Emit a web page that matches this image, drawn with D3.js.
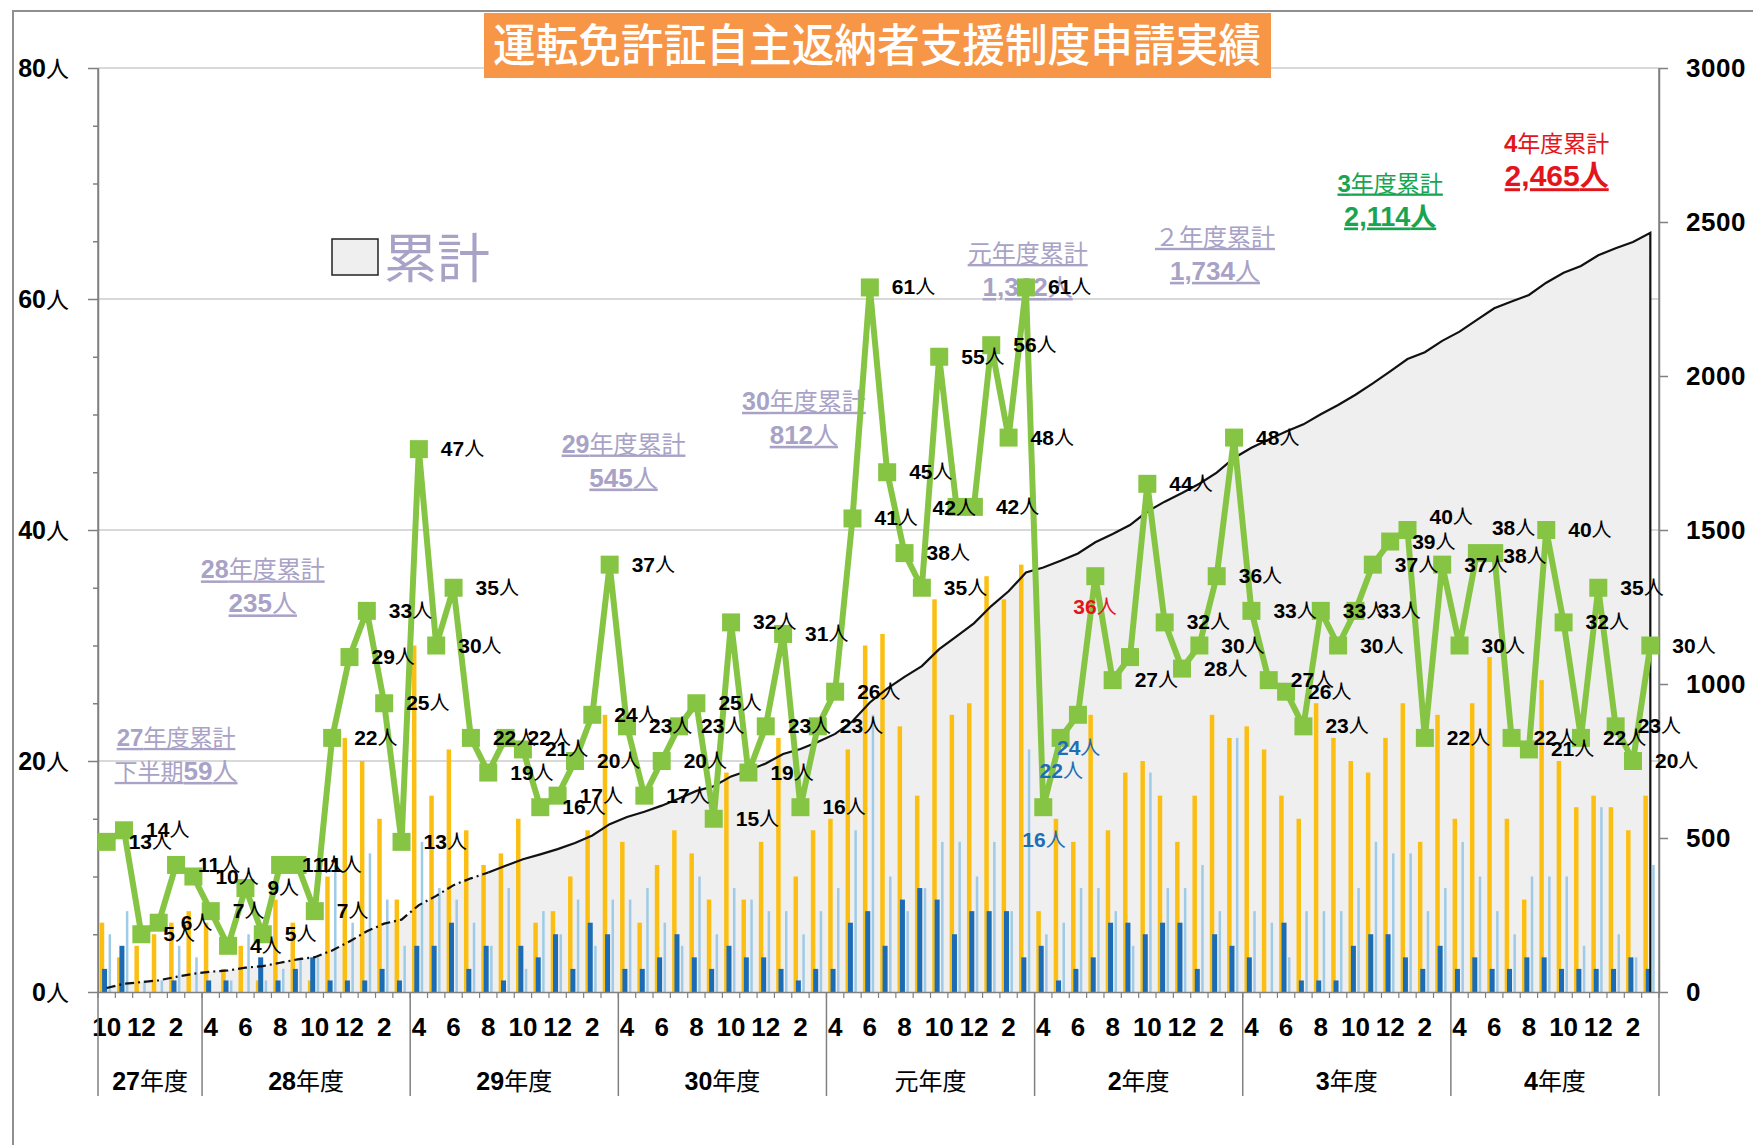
<!DOCTYPE html>
<html>
<head>
<meta charset="utf-8">
<script src="https://cdn.jsdelivr.net/npm/d3@7"></script>
<style>
  body { margin: 0; background: #fff; }
  svg { display: block; font-family: "Liberation Sans", Arial, "Noto Sans CJK JP", sans-serif; }
</style>
</head>
<body>
<svg id="chart" width="1753" height="1145"></svg>
<script>
// ---- データ ----
// 年度ラベルと各年度の月数（27年度は10月から）
const fyLabels = ["27", "28", "29", "30", "元", "2", "3", "4"];
const fyLengths = [6, 12, 12, 12, 12, 12, 12, 12];
const firstMonths = [10, 11, 12, 1, 2, 3];
const fyMonths = [4, 5, 6, 7, 8, 9, 10, 11, 12, 1, 2, 3];

// 月別申請者数（緑の折れ線）
const applicants = [
  13, 14, 5, 6, 11, 10,                      // 27年度
  7, 4, 9, 5, 11, 11, 7, 22, 29, 33, 25, 13, // 28年度
  47, 30, 35, 22, 19, 22, 21, 16, 17, 20, 24, 37,
  23, 17, 20, 23, 25, 15, 32, 19, 23, 31, 16, 23,
  26, 41, 61, 45, 38, 35, 55, 42, 42, 56, 48, 61,
  16, 22, 24, 36, 27, 29, 44, 32, 28, 30, 36, 48,
  33, 27, 26, 23, 33, 30, 33, 37, 39, 40, 22, 37,
  30, 38, 38, 22, 21, 40, 32, 22, 35, 23, 20, 30
];

// 内訳（棒グラフ 3 系列）
const seriesOrange = [
  6, 3, 4, 5, 6, 7,
  6, 2, 4, 1, 8, 6, 1, 10, 22, 20, 15, 8,
  30, 17, 21, 14, 11, 12, 15, 6, 7, 10, 14, 24,
  13, 6, 11, 14, 12, 8, 19, 8, 13, 22, 10, 14,
  15, 21, 30, 31, 23, 17, 34, 24, 25, 36, 34, 37,
  7, 15, 13, 24, 14, 19, 20, 17, 13, 17, 24, 22,
  23, 21, 17, 15, 25, 22, 20, 19, 22, 25, 13, 24,
  15, 25, 29, 15, 8, 27, 20, 16, 17, 16, 14, 17
];
const seriesDark = [
  2, 4, 0, 0, 1, 0,
  1, 1, 0, 3, 1, 2, 3, 1, 1, 1, 2, 1,
  4, 4, 6, 2, 4, 1, 4, 3, 5, 2, 6, 5,
  2, 2, 3, 5, 3, 2, 4, 3, 3, 2, 1, 2,
  2, 6, 7, 4, 8, 9, 8, 5, 7, 7, 7, 3,
  4, 1, 2, 3, 6, 6, 5, 6, 6, 2, 5, 4,
  3, 0, 6, 1, 1, 1, 4, 5, 5, 3, 2, 4,
  2, 3, 2, 2, 3, 3, 2, 2, 2, 2, 3, 2
];
const seriesLight = [
  5, 7, 1, 1, 4, 3,
  0, 1, 5, 1, 2, 3, 3, 11, 6, 12, 8, 4,
  13, 9, 8, 6, 4, 9, 2, 7, 5, 8, 4, 8,
  8, 9, 6, 4, 10, 5, 9, 8, 7, 7, 5, 7,
  9, 14, 24, 10, 7, 9, 13, 13, 10, 13, 7, 21,
  5, 6, 9, 9, 7, 4, 19, 9, 9, 11, 7, 22,
  7, 6, 3, 7, 7, 7, 9, 13, 12, 12, 7, 9,
  13, 10, 7, 5, 10, 10, 10, 4, 16, 5, 3, 11
];

// 年度末累計（注記）
const fyTotalText = ["59", "235", "545", "812", "1,362", "1,734", "2,114", "2,465"];

// 軸目盛
const leftTicks = [0, 20, 40, 60, 80];
const rightTicks = [0, 500, 1000, 1500, 2000, 2500, 3000];

// ---- 設定 ----
const svg = d3.select("#chart");
const pL = 98, pR = 1659, pT = 68, pB = 992;
const green = "#86c544";
const lav = "#a8a2c6";

const months = firstMonths.concat(...d3.range(7).map(() => fyMonths));
const cumulative = Array.from(d3.cumsum(applicants));

const x = d3.scaleBand().domain(d3.range(months.length)).range([pL, pR]);
const bw = x.bandwidth();
const cx = i => x(i) + bw / 2;
const yL = d3.scaleLinear().domain([0, 80]).range([pB, pT]);
const yR = d3.scaleLinear().domain([0, 3000]).range([pB, pT]);
const xSub = d3.scalePoint().domain(["orange", "dark", "gap", "light"]).range([bw * 0.23, bw * 0.68]);

// 外枠
svg.append("rect")
  .attr("x", 13).attr("y", 11).attr("width", 1770).attr("height", 1170)
  .attr("fill", "none").attr("stroke", "#8f8f8f").attr("stroke-width", 2);

// グリッド線
svg.append("g").selectAll("line")
  .data(leftTicks.filter(d => d > 0))
  .enter().append("line")
  .attr("x1", pL).attr("x2", pR)
  .attr("y1", d => yL(d)).attr("y2", d => yL(d))
  .attr("stroke", "#d9d9d9").attr("stroke-width", 2);

// 累計エリア
const area = d3.area()
  .x((d, i) => cx(i))
  .y0(yR(0))
  .y1(d => yR(d));
svg.append("path")
  .datum(cumulative)
  .attr("d", area)
  .attr("fill", "#efefef");

// 凡例（累計）
svg.append("rect")
  .attr("x", 332).attr("y", 239).attr("width", 46).attr("height", 36)
  .attr("fill", "#efefef").attr("stroke", "#222").attr("stroke-width", 1.5);
svg.append("text")
  .attr("x", 384).attr("y", 278)
  .attr("font-family", "'Noto Sans CJK JP', sans-serif")
  .attr("font-size", 53).attr("fill", lav)
  .text("累計");

// 棒グラフ
const barSeries = [
  { key: "orange", values: seriesOrange, color: "#fbbf14", w: 4.5 },
  { key: "dark", values: seriesDark, color: "#1c6bb5", w: 5 },
  { key: "light", values: seriesLight, color: "#9fcbe6", w: 2.5 }
];
barSeries.forEach(s => {
  svg.append("g").selectAll("rect")
    .data(s.values)
    .enter().append("rect")
    .attr("x", (d, i) => x(i) + xSub(s.key) - s.w / 2)
    .attr("width", s.w)
    .attr("y", d => yL(d))
    .attr("height", d => yL(0) - yL(d))
    .attr("fill", s.color);
});

// 累計線（前半は一点鎖線）
const dashEnd = 22;
const cumLine = d3.line().x(d => cx(d.i)).y(d => yR(d.v));
const cumPts = cumulative.map((v, i) => ({ i, v }));
svg.append("path")
  .datum(cumPts.slice(0, dashEnd + 1))
  .attr("d", cumLine)
  .attr("fill", "none").attr("stroke", "#111").attr("stroke-width", 2.2)
  .attr("stroke-dasharray", "9,4,2,4");
svg.append("path")
  .datum(cumPts.slice(dashEnd).concat([{ i: months.length - 1, v: 0 }]))
  .attr("d", cumLine)
  .attr("fill", "none").attr("stroke", "#111").attr("stroke-width", 2.2);

// 軸
const axisColor = "#808080";
const gL = svg.append("g").attr("transform", `translate(${pL},0)`);
gL.call(d3.axisLeft(yL).tickValues(d3.range(0, 81, 5)).tickSize(5).tickSizeOuter(0).tickFormat(""));
gL.selectAll(".tick").filter(d => d % 20 === 0).select("line").attr("x2", -10);
gL.selectAll("path, line").attr("stroke", axisColor).attr("stroke-width", 1.5);
gL.selectAll(".tick text").remove();
gL.selectAll(".lab")
  .data(leftTicks)
  .enter().append("text")
  .attr("class", "lab")
  .attr("x", -29).attr("y", d => yL(d) + 9)
  .attr("text-anchor", "end")
  .attr("fill", "#000")
  .each(function (d) {
    const t = d3.select(this);
    t.append("tspan").attr("font-weight", "bold").attr("font-size", 25).text(d);
    t.append("tspan").attr("font-size", 23).attr("font-family", "'Noto Sans CJK JP'").text("人");
  });

const gR = svg.append("g").attr("transform", `translate(${pR},0)`);
gR.call(d3.axisRight(yR).tickValues(rightTicks).tickSize(9).tickSizeOuter(0).tickPadding(18)
  .tickFormat(d3.format("d")));
gR.selectAll("path, line").attr("stroke", axisColor).attr("stroke-width", 1.5);
gR.selectAll("text")
  .attr("font-size", 26).attr("font-weight", "bold").attr("fill", "#000")
  .attr("letter-spacing", 0.5)
  .attr("font-family", "'Liberation Sans', Arial, sans-serif");

// 横軸
const gX = svg.append("g").attr("transform", `translate(0,${pB})`);
gX.call(d3.axisBottom(x).tickSize(0).tickFormat(""));
gX.select(".domain").attr("stroke", axisColor).attr("stroke-width", 1.5);
gX.selectAll(".mt")
  .data(d3.range(months.length + 1))
  .enter().append("line")
  .attr("x1", i => pL + i * bw).attr("x2", i => pL + i * bw)
  .attr("y1", 0).attr("y2", 6)
  .attr("stroke", axisColor).attr("stroke-width", 1.2);
gX.selectAll(".ml")
  .data(d3.range(0, months.length, 2))
  .enter().append("text")
  .attr("x", i => cx(i)).attr("y", 44)
  .attr("text-anchor", "middle")
  .attr("fill", "#000")
  .attr("font-size", 26).attr("font-weight", "bold")
  .text(i => months[i]);

// 年度区切りとラベル
const fyStarts = [0].concat(Array.from(d3.cumsum(fyLengths)));
svg.append("g").selectAll("line")
  .data(fyStarts)
  .enter().append("line")
  .attr("x1", s => s < months.length ? x(s) : pR)
  .attr("x2", s => s < months.length ? x(s) : pR)
  .attr("y1", (s, k) => (k === 0 || k === fyStarts.length - 1) ? pT : pB)
  .attr("y2", 1096)
  .attr("stroke", axisColor).attr("stroke-width", 1.5);
svg.append("g").selectAll("text")
  .data(fyLabels)
  .enter().append("text")
  .attr("x", (d, k) => (x(fyStarts[k]) + x(fyStarts[k + 1] - 1) + bw) / 2)
  .attr("y", 1090)
  .attr("text-anchor", "middle")
  .attr("fill", "#000")
  .each(function (d) {
    const t = d3.select(this);
    if (d !== "元") t.append("tspan").attr("font-weight", "bold").attr("font-size", 25).text(d);
    t.append("tspan").attr("font-size", 24).attr("font-family", "'Noto Sans CJK JP'")
      .text(d === "元" ? "元年度" : "年度");
  });

// 年度累計の注記
const annot = [
  { i: 4.5, v: 22.0, color: lav, pre: "下半期", size: 23, big: 26 },
  { i: 9.5, v: 36.5, color: lav, size: 24, big: 26 },
  { i: 30.3, v: 47.4, color: lav, size: 24, big: 26 },
  { i: 40.7, v: 51.1, color: lav, size: 24, big: 26 },
  { i: 53.6, v: 63.9, color: lav, size: 24, big: 26 },
  { i: 64.4, v: 65.3, color: lav, size: 24, big: 26 },
  { i: 74.5, v: 70.0, color: "#19a452", size: 23, big: 27 },
  { i: 84.1, v: 73.4, color: "#e3151c", size: 23, big: 30 }
];
const gA = svg.append("g");
annot.forEach((a, k) => {
  const ax = x(Math.floor(a.i)) + bw * (a.i % 1);
  const ay = yL(a.v);
  const name = fyLabels[k];
  const t1 = gA.append("text").attr("x", ax).attr("y", ay + 8)
    .attr("text-anchor", "middle").attr("fill", a.color)
    .attr("text-decoration", k < 7 ? "underline" : "none");
  if (name === "元") {
    t1.append("tspan").attr("font-size", a.size).attr("font-family", "'Noto Sans CJK JP'").text("元年度累計");
  } else if (name === "2") {
    t1.append("tspan").attr("font-size", a.size).attr("font-family", "'Noto Sans CJK JP'").text("２年度累計");
  } else {
    t1.append("tspan").attr("font-weight", "bold").attr("font-size", a.size + 1).text(name);
    t1.append("tspan").attr("font-size", a.size).attr("font-family", "'Noto Sans CJK JP'").text("年度累計");
  }
  const t2 = gA.append("text").attr("x", ax).attr("y", ay + 42)
    .attr("text-anchor", "middle").attr("fill", a.color)
    .attr("text-decoration", "underline");
  if (a.pre) t2.append("tspan").attr("font-size", a.size).attr("font-family", "'Noto Sans CJK JP'").text(a.pre);
  t2.append("tspan").attr("font-weight", "bold").attr("font-size", a.big).text(fyTotalText[k]);
  t2.append("tspan").attr("font-size", a.big - 1).attr("font-family", "'Noto Sans CJK JP'")
    .attr("font-weight", k >= 6 ? "bold" : "normal").text("人");
});

// 申請者数 折れ線
svg.append("path")
  .datum(applicants)
  .attr("d", d3.line().x((d, i) => cx(i)).y(d => yL(d)))
  .attr("fill", "none").attr("stroke", green).attr("stroke-width", 6)
  .attr("stroke-linejoin", "round");
svg.append("g").selectAll("rect")
  .data(applicants)
  .enter().append("rect")
  .attr("x", (d, i) => cx(i) - 9).attr("y", d => yL(d) - 9)
  .attr("width", 18).attr("height", 18)
  .attr("fill", green);

// データラベル（既定は点の右側）
const labelStyle = {
  49: { dx: -24, dy: 8 },
  54: { color: "#1f6db5", dx: -21, dy: 40 },
  55: { color: "#1f6db5", dx: -21, dy: 40 },
  56: { color: "#1f6db5", dx: -21, dy: 40 },
  57: { color: "#e3151c", dx: -22, dy: 38 },
  59: { hide: true },
  75: { dx: 22, dy: -6 },
  79: { dx: 15, dy: -18 },
  80: { dx: 9, dy: 10 }
};
const ls = i => labelStyle[i] || {};
svg.append("g").selectAll("text")
  .data(applicants.map((v, i) => ({ v, i })).filter(d => !ls(d.i).hide))
  .enter().append("text")
  .attr("x", d => cx(d.i) + (ls(d.i).dx ?? 22))
  .attr("y", d => yL(d.v) + (ls(d.i).dy ?? 7))
  .attr("fill", d => ls(d.i).color || "#000")
  .each(function (d) {
    const t = d3.select(this);
    t.append("tspan").attr("font-weight", "bold").attr("font-size", 21).text(d.v);
    t.append("tspan").attr("font-size", 20).attr("font-family", "'Noto Sans CJK JP'").text("人");
  });

// タイトル
svg.append("rect")
  .attr("x", 484).attr("y", 13).attr("width", 787).attr("height", 65)
  .attr("fill", "#f79646");
svg.append("text")
  .attr("x", 877).attr("y", 62)
  .attr("text-anchor", "middle")
  .attr("font-family", "'Noto Sans CJK JP', sans-serif")
  .attr("font-weight", 500)
  .attr("font-size", 45).attr("fill", "#fff")
  .attr("textLength", 768).attr("lengthAdjust", "spacingAndGlyphs")
  .text("運転免許証自主返納者支援制度申請実績");
</script>
</body>
</html>
